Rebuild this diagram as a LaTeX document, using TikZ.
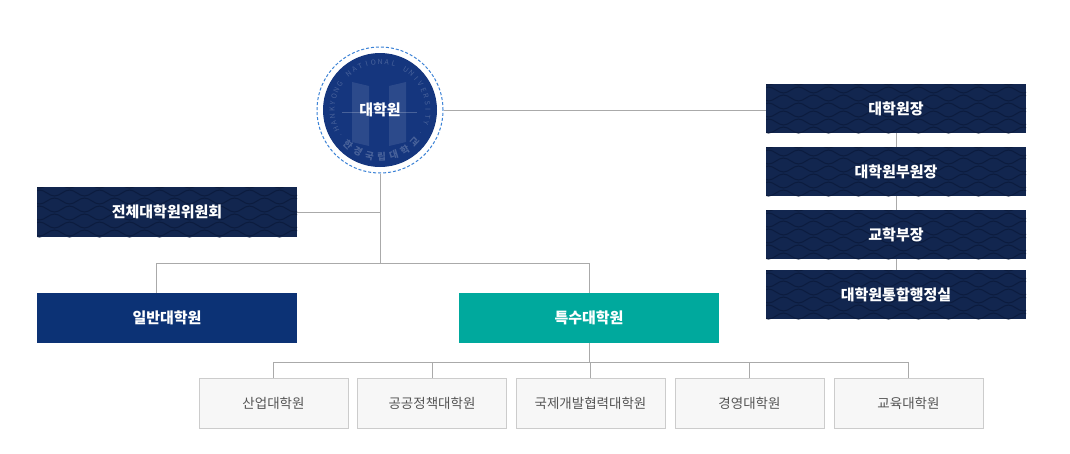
\documentclass[tikz,border=0pt]{standalone}
\usepackage{fontspec}
\setmainfont{Noto Sans CJK KR}
\usetikzlibrary{calc}
\definecolor{navy}{HTML}{12264F}
\definecolor{navyline}{HTML}{0C1C3E}
\definecolor{blueb}{HTML}{0C3275}
\definecolor{teal}{HTML}{00A99D}
\definecolor{conn}{HTML}{AAAAAA}
\definecolor{lightfill}{HTML}{F7F7F7}
\definecolor{lightdraw}{HTML}{CCCCCC}
\definecolor{greytext}{HTML}{555555}
\definecolor{logofill}{HTML}{15367E}
\definecolor{logodash}{HTML}{3B82D6}
\tikzset{
  wavy/.style={draw=navyline, line width=1pt},
  basebox/.style={rectangle, inner sep=0pt, minimum width=260pt, minimum height=50pt, font=\fontsize{15}{17}\selectfont\bfseries, text=white},
  darkbox/.style={basebox, fill=navy,
    path picture={
      \foreach \r in {0,...,7}{
        \pgfmathsetmacro\ph{mod(\r,2)*15}
        \draw[wavy] ([xshift=-\ph pt-20pt, yshift=-\r*8pt+2pt]path picture bounding box.north west)
          \foreach \k in {0,...,10}{ sin ++(7.5,-3) cos ++(7.5,3) sin ++(7.5,3) cos ++(7.5,-3) };
      }
    }},
  bluebox/.style={basebox, fill=blueb},
  tealbox/.style={basebox, fill=teal},
  subbox/.style={rectangle, inner sep=0pt, minimum width=149pt, minimum height=50pt, fill=lightfill, draw=lightdraw, line width=0.9pt, text=greytext, font=\fontsize{13.5}{15}\selectfont},
  connector/.style={draw=conn, line width=1pt},
  logochar/.style={text=white, opacity=0.22, font=\fontsize{7}{8}\selectfont, inner sep=0pt},
}
\begin{document}
\begin{tikzpicture}[x=1pt,y=-1pt]
\useasboundingbox (0,0) rectangle (1070,453);
\fill[white] (0,0) rectangle (1070,453);

\coordinate (j1) at (380,263);
\coordinate (j1l) at (156,263);
\coordinate (j1r) at (589,263);
\coordinate (j2) at (589,363);

% nodes
\node[darkbox] (jeonche) at (167,212) {전체대학원위원회};
\node[bluebox] (ilban) at (167,318) {일반대학원};
\node[tealbox] (teuksu) at (589,318) {특수대학원};

\node[darkbox, minimum height=49pt] (jang) at (896,108.5) {대학원장};
\node[darkbox, minimum height=49pt] (bujang) at (896,171.5) {대학원부원장};
\node[darkbox, minimum height=49pt] (gyohak) at (896,234.5) {교학부장};
\node[darkbox, minimum height=49pt] (haengjeong) at (896,294.5) {대학원통합행정실};

\node[subbox] (s1) at (273.5,403) {산업대학원};
\node[subbox] (s2) at (432,403) {공공정책대학원};
\node[subbox] (s3) at (590.5,403) {국제개발협력대학원};
\node[subbox] (s4) at (749.5,403) {경영대학원};
\node[subbox] (s5) at (908.5,403) {교육대학원};

% logo
\node[circle, draw=logodash, dash pattern=on 3pt off 2pt, line width=1pt, minimum size=126pt, inner sep=0pt] (logo) at (380,110) {};
\fill[logofill] (380,110) circle (57);
\fill[white, opacity=0.10] (352,82) -- (369,86) -- (369,146) -- (352,142) -- cycle;
\fill[white, opacity=0.10] (389,86) -- (406,82) -- (406,142) -- (389,146) -- cycle;
\draw[white, opacity=0.22, line width=0.6pt] (342,112) -- (417,112);
\foreach \c [count=\i from 0] in {H,A,N,K,Y,O,N,G,{},N,A,T,I,O,N,A,L,{},U,N,I,V,E,R,S,I,T,Y}{
  \pgfmathsetmacro\a{204-\i*8.15}
  \node[logochar, rotate=\a-90] at ({380+48*cos(\a)},{110-48*sin(\a)}) {\c};
}
\foreach \c [count=\i from 0] in {한,경,국,립,대,학,교}{
  \pgfmathsetmacro\a{227+\i*15}
  \node[logochar, font=\fontsize{9.5}{10}\selectfont\bfseries, rotate=\a+90] at ({380+47*cos(\a)},{110-47*sin(\a)}) {\c};
}
\node[logochar] at ({380+47*cos(214)},{110-47*sin(214)}) {·};
\node[logochar] at ({380+47*cos(330)},{110-47*sin(330)}) {·};
\node[text=white, font=\fontsize{15}{17}\selectfont\bfseries] (logotext) at (380,110) {대학원};

% connectors
\draw[connector] (logo.east) -- (logo.east -| jang.west);
\draw[connector] (logo.south) -- (j1);
\draw[connector] (jeonche.east) -- (jeonche.east -| j1);
\draw[connector] (ilban.north -| j1l) -- (j1l) -- (j1r) -- (teuksu.north);
\draw[connector] (teuksu.south) -- (j2);
\draw[connector] (s1.north) -- ++(0,-15) -| (s5.north);
\foreach \n in {s2,s3,s4}{ \draw[connector] (\n.north) -- ++(0,-15); }
\draw[connector] (jang.south) -- (bujang.north);
\draw[connector] (bujang.south) -- (gyohak.north);
\draw[connector] (gyohak.south) -- (haengjeong.north);
\end{tikzpicture}
\end{document}
